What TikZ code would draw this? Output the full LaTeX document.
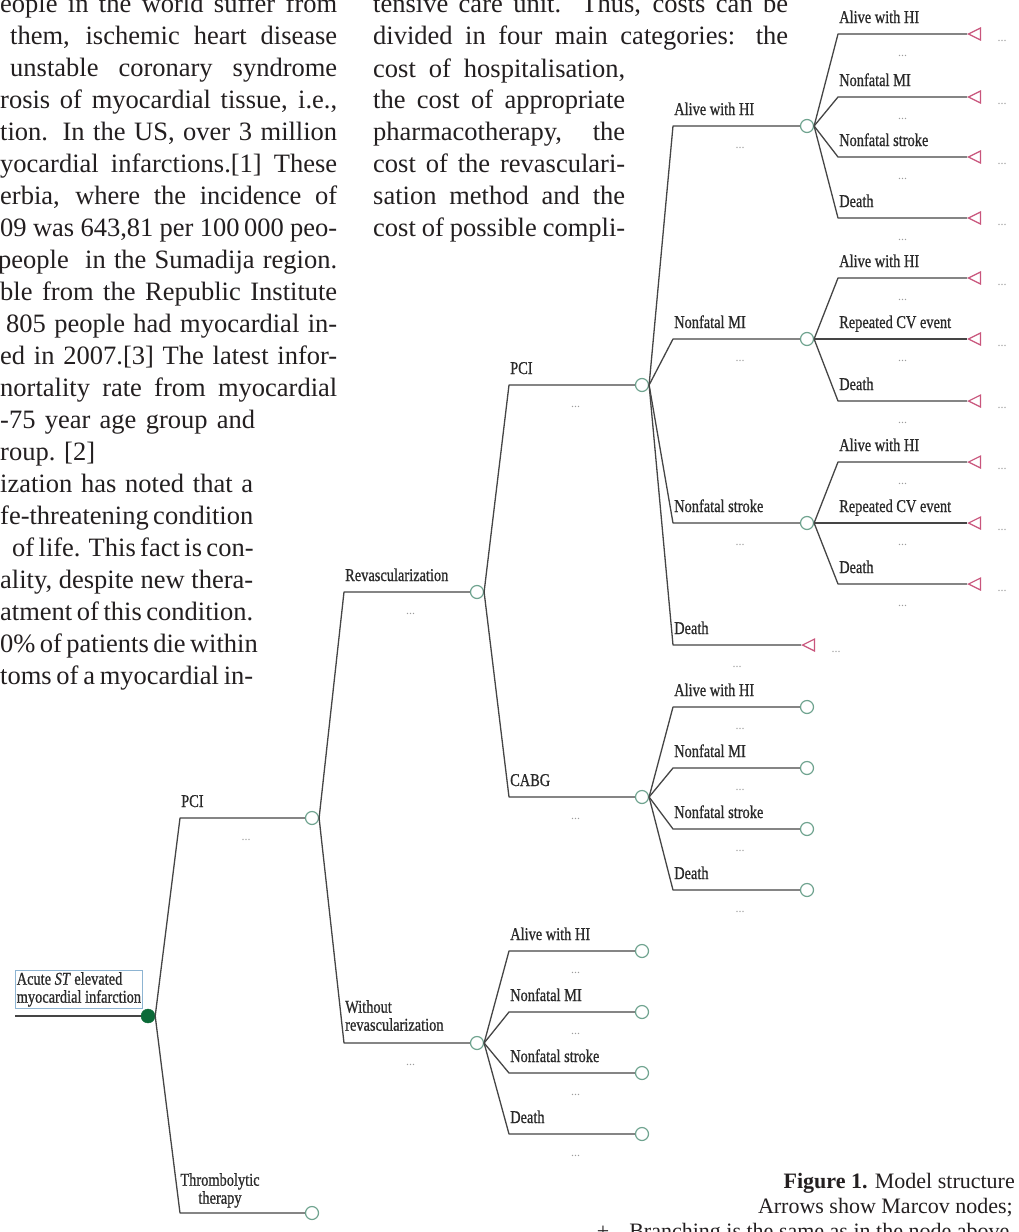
\documentclass[tikz,border=0pt]{standalone}
\usepackage{fontspec}
\setmainfont{Liberation Serif}
\newfontfamily\treefont[FakeStretch=0.80,FakeBold=0.8]{Liberation Serif}
\usetikzlibrary{shapes.geometric}
\definecolor{linegray}{HTML}{454545}
\definecolor{circgreen}{HTML}{6FA38F}
\definecolor{markred}{HTML}{C9557C}
\definecolor{rootgreen}{HTML}{0B6A38}
\definecolor{boxblue}{HTML}{8DB4D2}
\definecolor{dotgray}{HTML}{9C9C9C}
\definecolor{bodyc}{HTML}{231F20}
\definecolor{labelc}{HTML}{2A2A2A}

% branch ending in a chance circle: parent, name, corner x, y, circle x, label
\newcommand{\brc}[6]{%
  \coordinate (#2k) at (#3,#4);
  \node[chance] (#2) at (#5,#4) {};
  \draw[edge] (#1.east) -- (#2k) -- (#2.west);
  \node[lbl] (#2l) at ({#3+1},{#4-11}) {#6};
  \node[dots] (#2d) at ({(#3+#5)/2},{#4+22}) {...};
}
% branch ending in a Markov triangle: parent, name, corner x, y, apex x, label
\newcommand{\brm}[6]{%
  \coordinate (#2k) at (#3,#4);
  \node[markov] (#2) at (#5,#4) {};
  \draw[edge] (#1.east) -- (#2k) -- (#2.apex);
  \node[lbl] (#2l) at ({#3+1},{#4-11}) {#6};
  \node[dots] (#2d) at ({(#3+#5)/2},{#4+22}) {...};
  \node[dots] (#2r) at ({#5+35},{#4+7}) {...};
}
\newcommand{\bodyln}[5]{\node[bodytxt] (#1) at (#2,#3) {\makebox[#4pt][s]{#5}};}

\begin{document}
\begin{tikzpicture}[x=1pt,y=-1pt,
  edge/.style={draw=linegray, line width=1.3pt, line join=round},
  chance/.style={circle, draw=circgreen, fill=white, line width=1.2pt, minimum size=13pt, inner sep=0pt},
  rootdot/.style={circle, draw=rootgreen, fill=rootgreen, minimum size=14pt, inner sep=0pt},
  markov/.style={isosceles triangle, shape border rotate=180, isosceles triangle stretches,
    minimum width=12pt, minimum height=12pt, inner sep=0pt, draw=markred, line width=1.2pt,
    fill=white, anchor=apex},
  lbl/.style={anchor=base west, inner sep=0pt, text=labelc, font=\treefont\fontsize{18}{18}\selectfont},
  dots/.style={anchor=base, inner sep=0pt, text=dotgray, font=\fontsize{12}{12}\selectfont},
  bodytxt/.style={anchor=base west, inner sep=0pt, text=bodyc, font=\fontsize{26.5}{32}\selectfont},
  captxt/.style={anchor=base east, inner sep=0pt, text=bodyc, font=\fontsize{22}{25}\selectfont},
  rootbox/.style={draw=boxblue, line width=0.8pt, anchor=north west, minimum width=127pt,
    minimum height=38pt, inner sep=1pt, align=left, text=labelc,
    font=\treefont\fontsize{18}{18}\selectfont}
]
\fill[white] (0,0) rectangle (1018,1232);
\useasboundingbox (0,0) rectangle (1018,1232);

% ---------- body text, left column ----------
\bodyln{b1}{0}{12}{337}{eople in the world suffer from}
\bodyln{b2}{10}{44}{327}{them, ischemic heart disease}
\bodyln{b3}{10}{76}{327}{unstable coronary syndrome}
\bodyln{b4}{0}{108}{337}{rosis of myocardial tissue, i.e.,}
\bodyln{b5}{0}{140}{337}{tion. In the US, over 3 million}
\bodyln{b6}{0}{172}{337}{yocardial infarctions.[1] These}
\bodyln{b7}{0}{204}{337}{erbia, where the incidence of}
\bodyln{b8}{0}{236}{337}{09 was 643,81 per 100\,000 peo-}
\bodyln{b9}{-2}{268}{339}{people\ \ in the Sumadija region.}
\bodyln{b10}{0}{300}{337}{ble from the Republic Institute}
\bodyln{b11}{6}{332}{331}{805 people had myocardial in-}
\bodyln{b12}{0}{364}{337}{ed in 2007.[3] The latest infor-}
\bodyln{b13}{0}{396}{337}{nortality rate from myocardial}
\bodyln{b14}{0}{428}{255}{-75 year age group and}
\node[bodytxt] (b15) at (0,460) {roup. [2]};
\bodyln{b16}{0}{492}{253}{ization has noted that a}
\bodyln{b17}{0}{524}{253}{fe-threatening condition}
\bodyln{b18}{12}{556}{241}{of life. This fact is con-}
\bodyln{b19}{0}{588}{253}{ality, despite new thera-}
\bodyln{b20}{0}{620}{253}{atment of this condition.}
\bodyln{b21}{0}{652}{253}{0\% of patients die within}
\bodyln{b22}{0}{684}{253}{toms of a myocardial in-}

% ---------- body text, middle column ----------
\bodyln{t1}{373}{12}{415}{tensive care unit. Thus, costs can be}
\bodyln{t2}{373}{44}{415}{divided in four main categories: the}
\bodyln{t3}{373}{77}{252}{cost of hospitalisation,}
\bodyln{t4}{373}{108}{252}{the cost of appropriate}
\bodyln{t5}{373}{140}{252}{pharmacotherapy,\ \ the}
\bodyln{t6}{373}{172}{252}{cost of the revasculari-}
\bodyln{t7}{373}{204}{252}{sation method and the}
\bodyln{t8}{373}{236}{252}{cost of possible compli-}

% ---------- caption ----------
\node[captxt] (cap1) at (1015,1188) {\textbf{Figure 1.} Model structure};
\node[captxt] (cap2) at (1013,1213) {Arrows show Marcov nodes;};
\node[captxt] (cap3) at (1015,1238) {Branching is the same as in the node above.};
\node[captxt, anchor=base] (cap4) at (603,1238) {+};

% ---------- tree ----------
\node[rootbox] (root) at (15,970) {Acute \textit{ST} elevated\\myocardial infarction};
\coordinate (stem) at (15,1016);
\node[rootdot] (r0) at (148,1016) {};
\draw[edge] (stem) -- (r0.west);

% level 1
\brc{r0}{pcia}{180}{818}{312}{PCI}
\brc{r0}{thr}{180}{1213}{312}{}
\node[lbl, align=center, anchor=north] (thrtxt) at (220,1173) {Thrombolytic\\therapy};

% level 2
\brc{pcia}{rev}{344}{592}{477}{Revascularization}
\brc{pcia}{wor}{344}{1043}{477}{}
\node[lbl, align=left, anchor=north west] (wortxt) at (345,1000) {Without\\revascularization};

% level 3
\brc{rev}{pcib}{509}{385}{642}{PCI}
\brc{rev}{cabg}{509}{797}{642}{CABG}
\brc{wor}{w1}{509}{951}{642}{Alive with HI}
\brc{wor}{w2}{509}{1012}{642}{Nonfatal MI}
\brc{wor}{w3}{509}{1073}{642}{Nonfatal stroke}
\brc{wor}{w4}{509}{1134}{642}{Death}

% level 4
\brc{pcib}{p1}{673}{126}{807}{Alive with HI}
\brc{pcib}{p2}{673}{339}{807}{Nonfatal MI}
\brc{pcib}{p3}{673}{523}{807}{Nonfatal stroke}
\brm{pcib}{p4}{673}{645}{801}{Death}
\brc{cabg}{c1}{673}{707}{807}{Alive with HI}
\brc{cabg}{c2}{673}{768}{807}{Nonfatal MI}
\brc{cabg}{c3}{673}{829}{807}{Nonfatal stroke}
\brc{cabg}{c4}{673}{890}{807}{Death}

% level 5
\brm{p1}{a1}{838}{34}{967}{Alive with HI}
\brm{p1}{a2}{838}{97}{967}{Nonfatal MI}
\brm{p1}{a3}{838}{157}{967}{Nonfatal stroke}
\brm{p1}{a4}{838}{218}{967}{Death}
\brm{p2}{e1}{838}{278}{967}{Alive with HI}
\brm{p2}{e2}{838}{339}{967}{Repeated CV event}
\brm{p2}{e3}{838}{401}{967}{Death}
\brm{p3}{f1}{838}{462}{967}{Alive with HI}
\brm{p3}{f2}{838}{523}{967}{Repeated CV event}
\brm{p3}{f3}{838}{584}{967}{Death}
\end{tikzpicture}
\end{document}
